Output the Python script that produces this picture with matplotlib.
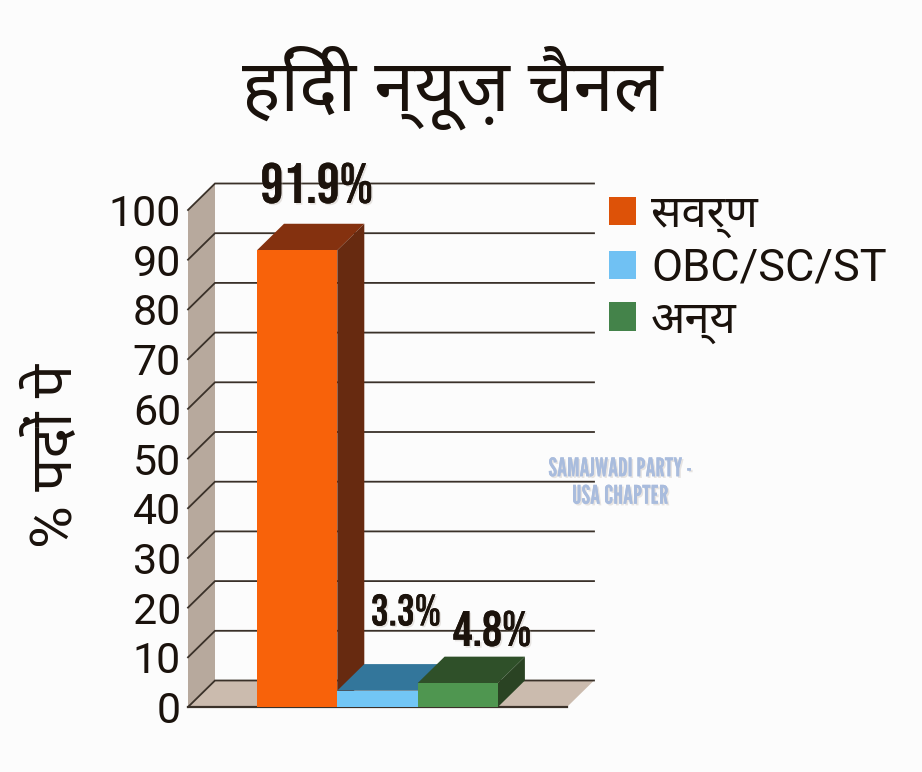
import matplotlib
matplotlib.use("Agg")
import matplotlib.pyplot as plt
import matplotlib.patheffects as pe
from matplotlib.patches import Patch, Polygon

# Percentage share of posts per group
groups = ["सवर्ण", "OBC/SC/ST", "अन्य"]
shares = [91.9, 3.3, 4.8]
share_labels = ["91.9%", "3.3%", "4.8%"]
y_ticks = [0, 10, 20, 30, 40, 50, 60, 70, 80, 90, 100]
front_colors = ["#f8620a", "#72c6f5", "#4f9650"]
top_colors = ["#84310f", "#33769b", "#2f5029"]
side_colors = ["#672a10", "#33769b", "#2a4323"]
legend_colors = ["#dd5208", "#70c1f3", "#44834a"]

title_text = "हिंदी न्यूज़ चैनल"
ylabel_text = "% पदों पे"
credit_text = "SAMAJWADI PARTY -\nUSA CHAPTER"

W, H = 922, 772
BG = "#fcfcfc"
hindi = ["Roboto", "Noto Sans Devanagari"]
condensed = ["Bebas Neue", "Oswald", "DejaVu Sans"]
narrow = ["League Gothic", "Bebas Neue", "DejaVu Sans"]

fig = plt.figure(figsize=(W / 100, H / 100), dpi=100, facecolor=BG)
ax = fig.add_axes([188 / W, 1 - 707 / H, (567 - 188) / W, (707 - 210) / H], facecolor="none")

px_per_x = 80.3
px_per_y = 4.97
x_left = -0.5 - (257 - 188) / px_per_x
x_right = x_left + (567 - 188) / px_per_x
ax.set_xlim(x_left, x_right)
ax.set_ylim(0, 100)
dx = 27 / px_per_x
dy = 26.5 / px_per_y

# Side wall and floor of the box
ax.add_patch(Polygon([(x_left, 0), (x_left + dx, dy), (x_left + dx, 100 + dy), (x_left, 100)],
                     closed=True, fc="#b7a99d", ec="none", clip_on=False, zorder=1))
ax.add_patch(Polygon([(x_left, 0), (x_left + dx, dy), (x_right + dx, dy), (x_right, 0)],
                     closed=True, fc="#cbbbae", ec="none", clip_on=False, zorder=1))

# Gridlines run along the back wall and down the side wall
line_color = "#3a3129"
for t in y_ticks:
    ax.plot([x_left, x_left + dx, x_right + dx], [t, t + dy, t + dy], color=line_color,
            lw=1.3, clip_on=False, zorder=2, solid_joinstyle="miter")
ax.plot([x_left, x_right], [0, 0], color=line_color, lw=1.6, clip_on=False, zorder=2)

# Bars, drawn with a top and a side face
positions = range(len(shares))
ax.bar(positions, shares, width=1.0, color=front_colors, zorder=6, clip_on=False)
for i, v in enumerate(shares):
    l, r = i - 0.5, i + 0.5
    z = 3 + i
    ax.add_patch(Polygon([(l, v), (l + dx, v + dy), (r + dx, v + dy), (r, v)],
                         closed=True, fc=top_colors[i], ec="none", clip_on=False, zorder=z))
    ax.add_patch(Polygon([(r, 0), (r + dx, dy), (r + dx, v + dy), (r, v)],
                         closed=True, fc=side_colors[i], ec="none", clip_on=False, zorder=z))

# Value labels above each bar
soft_shadow = [pe.withSimplePatchShadow(offset=(1.2, -1.2), shadow_rgbFace="#b5aca4", alpha=0.3), pe.Normal()]
label_spots = [(317, 183, 41), (406, 610, 32), (492, 628, 36)]
for text, (px, py, size) in zip(share_labels, label_spots):
    fig.text(px / W, 1 - py / H, text, ha="center", va="center", fontsize=size, family=condensed,
             color="#1c130c", path_effects=soft_shadow, zorder=10)

# Axis text
ax.set_xticks([])
ax.set_yticks(y_ticks)
ax.tick_params(axis="y", length=0, pad=5, labelsize=31, labelcolor="#1a120c")
for lab in ax.get_yticklabels():
    lab.set_family("Roboto")
for side in ax.spines.values():
    side.set_visible(False)

fig.text(452 / W, 1 - 88 / H, title_text, ha="center", va="center", fontsize=52,
         family=hindi, color="#1a120c")
fig.text(56 / W, 1 - 456 / H, ylabel_text, ha="center", va="center", rotation=90, fontsize=42,
         family=hindi, color="#1a120c")
fig.text(620 / W, 1 - 483 / H, credit_text, ha="center", va="center", fontsize=18.5,
         family=narrow, color="#a9bcdd", linespacing=1.18, path_effects=soft_shadow, zorder=10)

# Legend
handles = [Patch(fc=c, ec="none", label=g) for c, g in zip(legend_colors, groups)]
ax.legend(handles=handles, loc="upper left", bbox_to_anchor=(609 / W, 1 - 194 / H),
          bbox_transform=fig.transFigure, frameon=False, borderpad=0, borderaxespad=0,
          handlelength=0.6, handleheight=0.6, handletextpad=0.33, labelspacing=0.215,
          prop={"family": hindi, "size": 32.5}, labelcolor="#1a120c")

fig.savefig("out.png", dpi=100, facecolor=BG)
